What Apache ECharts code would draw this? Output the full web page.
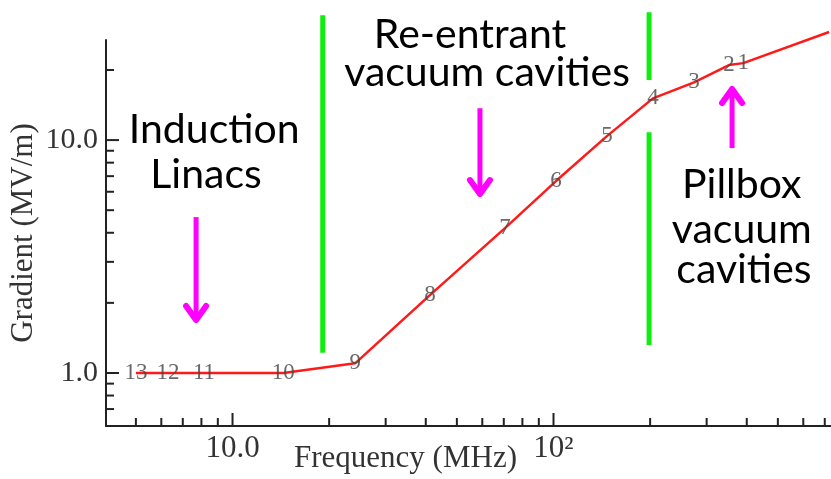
<!DOCTYPE html>
<html><head><meta charset="utf-8">
<script src="https://cdn.jsdelivr.net/npm/echarts@6/dist/echarts.min.js"></script>
<style>html,body{margin:0;padding:0;background:#fff}#c{width:831px;height:479px}</style>
</head><body><div id="c"></div>
<script>
// ---- data ----
const pointLabels = ['13','12','11','10','9','8','7','6','5','4','3','2','1'];
const frequencyMHz = [5.0, 6.3, 8.15, 14.4, 24.1, 41.2, 70.6, 101.8, 146.7, 204, 274, 352, 390];
const gradientMVm  = [1.0, 1.0, 1.0, 1.0, 1.10, 2.16, 4.19, 6.67, 10.4, 15.1, 17.7, 21.0, 21.4];
const curveEnd = [722, 29.1];
const xMajorTicks = [10, 100];
const xMinorTicks = [5,6,7,8,9,20,30,40,50,60,70,80,90,200,300,400,500,600,700];
const yMajorTicks = [1, 10];
const yMinorTicks = [0.7,0.8,0.9,2,3,4,5,6,7,8,9,20];
const xTickLabels = ['10.0', '10²'];
const yTickLabels = ['1.0', '10.0'];
const xRange = [4.035, 732];
const yRange = [0.592, 26.9];
// annotations, in data units (MHz, MV/m)
const boundaryFreq = [19.1, 198.5, 198.5];
const boundaryFrom = [1.22, 18.1, 1.32];
const boundaryTo   = [34.4, 35.4, 10.8];
const arrowFreq = [7.7, 59, 360];
const arrowFrom = [4.67, 13.7, 9.24];
const arrowTip  = [1.655, 5.75, 16.9];
const regionText = ['Induction', 'Linacs', 'Re-entrant', 'vacuum cavities', 'Pillbox', 'vacuum', 'cavities'];
const regionFreq = [8.77, 8.27, 54.95, 62.1, 386, 386, 392];
const regionGrad = [11.04, 7.08, 28.2, 19.4, 6.41, 4.11, 2.77];

const SERIF = "'Liberation Serif', 'DejaVu Serif', serif";
const chart = echarts.init(document.getElementById('c'), null, {renderer: 'canvas'});

function fmt(list, labels) {
  return function (v) {
    for (let i = 0; i < list.length; i++) if (Math.abs(v - list[i]) / list[i] < 1e-6) return labels[i];
    return '';
  };
}

const pts = frequencyMHz.map((f, i) => [f, gradientMVm[i]]);

chart.setOption({
  animation: false,
  backgroundColor: '#fff',
  grid: {left: 106, right: 0, top: 40, bottom: 53, containLabel: false, outerBoundsMode: 'none'},
  xAxis: {
    type: 'log', logBase: 10, min: xRange[0], max: xRange[1],
    axisLine: {lineStyle: {color: '#222', width: 2}},
    axisTick: {show: false}, splitLine: {show: false}, minorTick: {show: false},
    axisLabel: {formatter: fmt(xMajorTicks, xTickLabels), color: '#333', fontFamily: SERIF, fontSize: 31, margin: 7, showMinLabel: false, showMaxLabel: false},
    name: 'Frequency (MHz)', nameLocation: 'middle', nameGap: 17, nameMoveOverlap: false,
    nameTextStyle: {color: '#333', fontFamily: SERIF, fontSize: 31, padding: [0, 126, 0, 0]}
  },
  yAxis: {
    type: 'log', logBase: 10, min: yRange[0], max: yRange[1],
    axisLine: {lineStyle: {color: '#222', width: 2}},
    axisTick: {show: false}, splitLine: {show: false}, minorTick: {show: false},
    axisLabel: {formatter: fmt(yMajorTicks, yTickLabels), color: '#333', fontFamily: SERIF, fontSize: 30, margin: 8, showMinLabel: false, showMaxLabel: false},
    name: 'Gradient (MV/m)', nameLocation: 'middle', nameGap: 67, nameMoveOverlap: false,
    nameTextStyle: {color: '#333', fontFamily: SERIF, fontSize: 31}
  },
  series: [
    {type: 'line', data: pts.concat([curveEnd]), showSymbol: false, clip: false,
     lineStyle: {color: '#ff1a1a', width: 2.5}, z: 2},
    {type: 'scatter', data: pts, symbolSize: 1, itemStyle: {color: 'rgba(0,0,0,0)'}, z: 3,
     label: {show: true, position: 'inside', formatter: p => pointLabels[p.dataIndex],
             color: '#444', fontFamily: SERIF, fontSize: 23}}
  ]
});

function px(f, g) { return chart.convertToPixel({gridIndex: 0}, [f, g]); }
const X = v => chart.convertToPixel({xAxisIndex: 0}, v);
const Y = v => chart.convertToPixel({yAxisIndex: 0}, v);
const x0 = X(xRange[0]), y0 = Y(yRange[0]);
const els = [];
function tick(x1, y1, x2, y2) {
  els.push({type: 'line', shape: {x1, y1, x2, y2}, style: {stroke: '#222', lineWidth: 2}, z: 10});
}
xMajorTicks.forEach(v => tick(X(v), y0, X(v), y0 - 13));
xMinorTicks.forEach(v => tick(X(v), y0, X(v), y0 - 8));
yMajorTicks.forEach(v => tick(x0, Y(v), x0 + 13, Y(v)));
yMinorTicks.forEach(v => tick(x0, Y(v), x0 + 8, Y(v)));

boundaryFreq.forEach((f, i) => {
  els.push({type: 'line', shape: {x1: X(f), y1: Y(boundaryFrom[i]), x2: X(f), y2: Y(boundaryTo[i])},
    style: {stroke: '#10ee10', lineWidth: 5}, z: 20});
});
arrowFreq.forEach((f, i) => {
  const x = X(f), ya = Y(arrowFrom[i]), yt = Y(arrowTip[i]);
  const d = yt > ya ? 1 : -1;
  els.push({type: 'line', shape: {x1: x, y1: ya, x2: x, y2: yt - d * 4},
    style: {stroke: '#ff00ff', lineWidth: 5}, z: 20});
  els.push({type: 'polyline', shape: {points: [[x - 10, yt - d * 16], [x, yt - d * 2], [x + 10, yt - d * 16]]},
    style: {stroke: '#ff00ff', lineWidth: 6, fill: null, lineJoin: 'round', lineCap: 'round'}, z: 20});
});
regionText.forEach((t, i) => {
  const p = px(regionFreq[i], regionGrad[i]);
  els.push({type: 'text', x: p[0], y: p[1], z: 30,
    style: {text: t, font: "41px Lato", fill: '#000', align: 'center', verticalAlign: 'middle',
            textAlign: 'center', textVerticalAlign: 'middle'}});
});
chart.setOption({graphic: els});
</script></body></html>
